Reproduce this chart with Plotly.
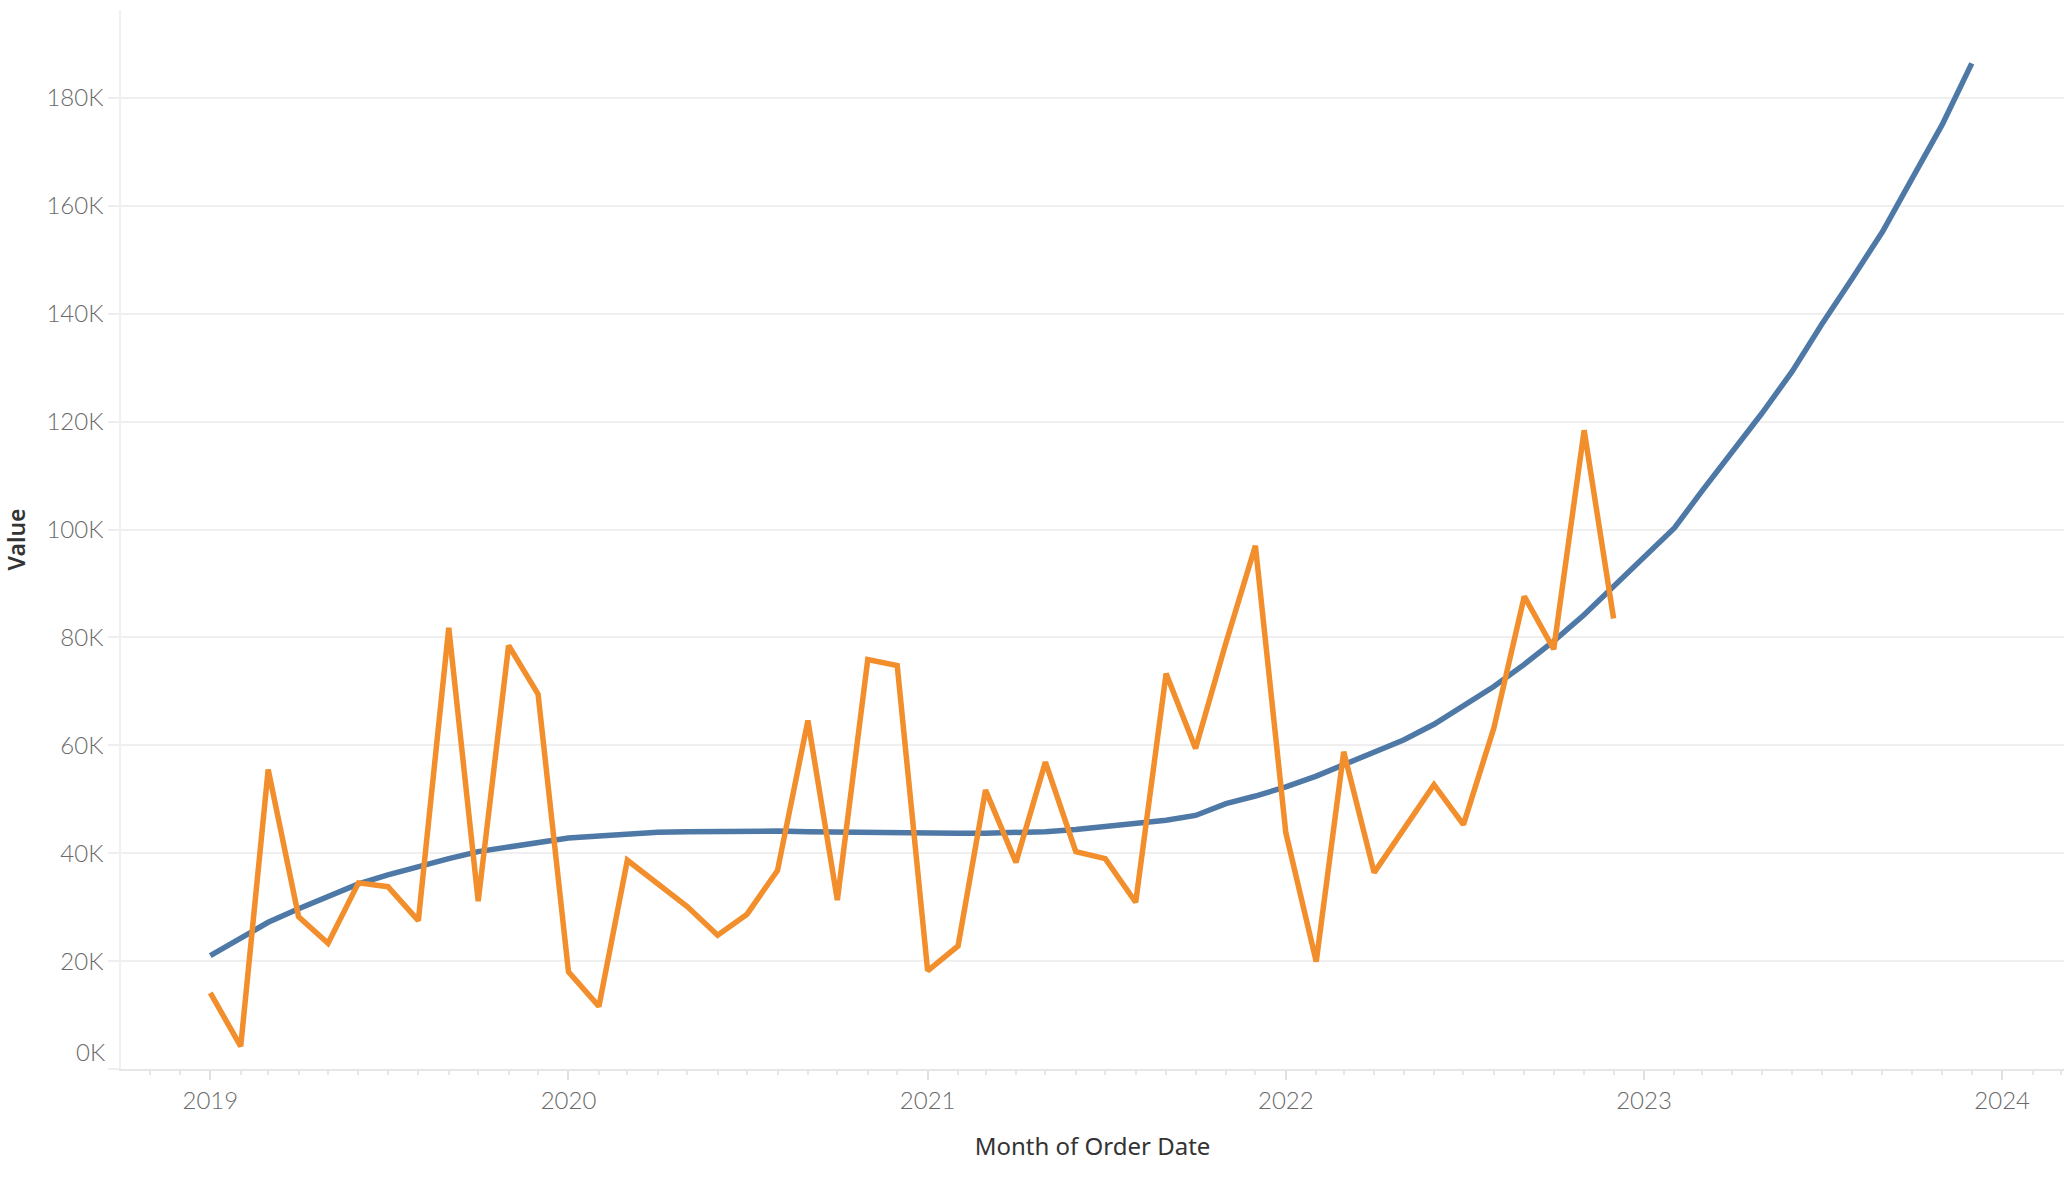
import pandas as pd
import plotly.graph_objects as go

# ---- data ----
actual_months = pd.date_range("2019-01-01", periods=48, freq="MS")
actual_values = [14100, 4200, 55500, 28200, 23300, 34500, 33800, 27500, 81800, 31100, 78500, 69500,
                 18000, 11600, 38700, 34400, 30100, 24800, 28700, 36800, 64600, 31300, 75900, 74800,
                 18200, 22800, 51700, 38300, 56900, 40300, 39000, 30900, 73300, 59400, 79000, 97000,
                 43800, 19900, 58800, 36400, 44300, 52700, 45300, 63200, 87600, 77800, 118400, 83500]

trend_months = pd.date_range("2019-01-01", periods=60, freq="MS")
trend_values = [21000, 24200, 27200, 29700, 32000, 34300, 36000, 37600, 39000, 40300, 41200, 42000,
                42800, 43200, 43600, 43900, 44000, 44100, 44100, 44100, 44000, 43900, 43900, 43800,
                43700, 43700, 43700, 43800, 44000, 44400, 44900, 45500, 46100, 47000, 49200, 50600,
                52300, 54300, 56400, 58600, 61000, 63900, 67300, 70900, 75000, 79300, 84200, 89400,
                94700, 100300, 107100, 114300, 121500, 129300, 138000, 146500, 155200, 165000, 175100, 186400]

y_tick_values = [0, 20000, 40000, 60000, 80000, 100000, 120000, 140000, 160000, 180000]
y_tick_labels = ["0K", "20K", "40K", "60K", "80K", "100K", "120K", "140K", "160K", "180K"]
x_tick_values = ["2019-01-01", "2020-01-01", "2021-01-01", "2022-01-01", "2023-01-01", "2024-01-01"]
x_tick_labels = ["2019", "2020", "2021", "2022", "2023", "2024"]

BLUE = "#4e79a7"
ORANGE = "#f28e2b"
GRID = "#efefef"
TICKC = "#6a6a6a"
TITLEC = "#333333"

fig = go.Figure()
fig.add_trace(go.Scatter(x=trend_months, y=trend_values, mode="lines",
                         line=dict(color=BLUE, width=5.5), showlegend=False))
fig.add_trace(go.Scatter(x=actual_months, y=actual_values, mode="lines",
                         line=dict(color=ORANGE, width=5.5), showlegend=False))

fig.update_layout(
    width=2066, height=1185,
    margin=dict(l=121, r=2, t=10, b=116),
    paper_bgcolor="white", plot_bgcolor="white",
    font=dict(family="Lato, Open Sans, sans-serif", color=TICKC),
)

fig.update_xaxes(
    type="date",
    range=["2018-10-02", "2024-03-04"],
    tickvals=x_tick_values, ticktext=x_tick_labels,
    tickfont=dict(size=24, color=TICKC, weight=300),
    showgrid=False, zeroline=False,
    showline=True, linecolor="#e6e6e6", linewidth=2,
    ticks="outside", ticklen=9, tickwidth=1.5, tickcolor="#e0e0e0",
    minor=dict(ticks="outside", dtick="M1", ticklen=4, tickwidth=1.5, tickcolor="#e6e6e6", showgrid=False),
    title=dict(text="Month of Order Date",
               font=dict(family="Noto Sans, Open Sans, sans-serif", size=24, color=TITLEC),
               standoff=25),
)

# the bottom label ("0K") sits just above the axis edge, as in the reference
y_tick_text = [""] + y_tick_labels[1:]
fig.update_yaxes(
    range=[0, 196300],
    tickvals=y_tick_values, ticktext=y_tick_text,
    tickfont=dict(size=24, color=TICKC, weight=300),
    showgrid=True, gridcolor=GRID, gridwidth=2,
    zeroline=False,
    showline=True, linecolor="#f0f0f0", linewidth=1.5,
    ticks="outside", ticklen=11, tickwidth=1.5, tickcolor="#eeeeee",
    title=dict(text="Value",
               font=dict(family="Noto Sans, Open Sans, sans-serif", size=23, color=TITLEC, weight=600),
               standoff=14),
)
fig.add_annotation(text=y_tick_labels[0], xref="paper", x=0, xanchor="right", xshift=-13,
                   yref="y", y=y_tick_values[0], yanchor="middle", yshift=18,
                   showarrow=False, font=dict(family="Lato, Open Sans, sans-serif", size=24, color=TICKC, weight=300))

fig.write_html("out.html", config={"displayModeBar": False},
               post_script="document.body.style.margin='0';")
